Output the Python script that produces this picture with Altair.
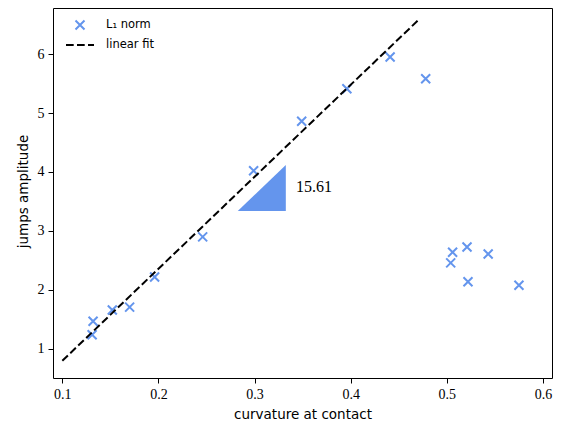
import altair as alt
import pandas as pd

# ---- data ----
curvature = [0.131, 0.132, 0.152, 0.170, 0.196, 0.246, 0.299, 0.349, 0.396,
             0.441, 0.478, 0.504, 0.506, 0.521, 0.522, 0.543, 0.575]
amplitude = [1.24, 1.47, 1.66, 1.71, 2.22, 2.90, 4.02, 4.86, 5.41,
             5.95, 5.58, 2.46, 2.64, 2.73, 2.14, 2.61, 2.08]
fit_x = [0.10, 0.47]
fit_y = [0.80, 6.57]
tri_x = [0.2825, 0.3325]
tri_top = [3.34, 4.12]
tri_base = [3.34, 3.34]
slope_text = ["15.61"]
slope_text_x = [0.343]
slope_text_y = [3.75]
series = ["L\u2081 norm", "linear fit"]
x_ticks = [0.1, 0.2, 0.3, 0.4, 0.5, 0.6]
y_ticks = [1, 2, 3, 4, 5, 6]

BLUE = "#6495ED"
X_PATH = "M-0.45,-0.45L0.45,0.45M-0.45,0.45L0.45,-0.45"
DASH_PATH = "M-1.4,0L-0.63,0M-0.3,0L0.47,0M0.8,0L1.4,0"

pts = pd.DataFrame({"x": curvature, "y": amplitude, "series": series[0]})
fit = pd.DataFrame({"x": fit_x, "y": fit_y})
tri = pd.DataFrame({"x": tri_x, "y": tri_top, "y2": tri_base})
lab = pd.DataFrame({"x": slope_text_x, "y": slope_text_y, "t": slope_text})

xscale = alt.Scale(domain=[0.0903, 0.6094], nice=False, zero=False)
yscale = alt.Scale(domain=[0.508, 6.78], nice=False, zero=False)

xaxis = alt.Axis(values=x_ticks, format=".1f", title="curvature at contact",
                 titleFont="DejaVu Sans", titleFontSize=13.5, titleFontWeight="normal",
                 titleColor="black", titleY=36, titleBaseline="middle",
                 labelFont="Liberation Serif", labelFontSize=14, labelColor="black",
                 labelPadding=4, labelFlush=False, tickSize=5, tickColor="black",
                 tickWidth=1, domain=False, grid=False)
yaxis = alt.Axis(values=y_ticks, format="d", title="jumps amplitude",
                 titleFont="DejaVu Sans", titleFontSize=13.5, titleFontWeight="normal",
                 titleColor="black", titleX=-30, titleY=183, titleAlign="center",
                 titleBaseline="middle", titleAngle=270,
                 labelFont="Liberation Serif", labelFontSize=14, labelColor="black",
                 labelPadding=4, labelFlush=False, tickSize=5, tickColor="black",
                 tickWidth=1, domain=False, grid=False)

leg = alt.Legend(title=None, orient="none", legendX=16, legendY=6,
                 symbolSize=400, symbolStrokeWidth=2, symbolOpacity=1,
                 labelOffset=15, labelFont="DejaVu Sans", labelFontSize=11.5,
                 labelColor="black", padding=0, rowPadding=0)

points = alt.Chart(pts).mark_point(filled=False, strokeWidth=2, opacity=1, size=400).encode(
    x=alt.X("x:Q", scale=xscale, axis=xaxis),
    y=alt.Y("y:Q", scale=yscale, axis=yaxis),
    color=alt.Color("series:N", scale=alt.Scale(domain=series, range=[BLUE, "black"]), legend=leg),
    shape=alt.Shape("series:N", scale=alt.Scale(domain=series, range=[X_PATH, DASH_PATH]), legend=leg),
)

line = alt.Chart(fit).mark_line(color="black", strokeDash=[7.7, 3.3], strokeWidth=2).encode(
    x=alt.X("x:Q", scale=xscale),
    y=alt.Y("y:Q", scale=yscale),
)

triangle = alt.Chart(tri).mark_area(color=BLUE, opacity=1).encode(
    x=alt.X("x:Q", scale=xscale),
    y=alt.Y("y:Q", scale=yscale),
    y2="y2:Q",
)

text = alt.Chart(lab).mark_text(align="left", baseline="middle", font="Liberation Serif",
                                fontSize=16, color="black").encode(
    x=alt.X("x:Q", scale=xscale),
    y=alt.Y("y:Q", scale=yscale),
    text="t:N",
)

chart = alt.layer(points, line, triangle, text).properties(
    width=499, height=370,
    autosize=alt.AutoSizeParams(type="none"),
    padding={"left": 45, "top": 0, "right": 2, "bottom": 45},
    background="white",
).configure_view(stroke="black", strokeWidth=1)

chart.save("out.html", embed_options={"renderer": "svg", "actions": False})
